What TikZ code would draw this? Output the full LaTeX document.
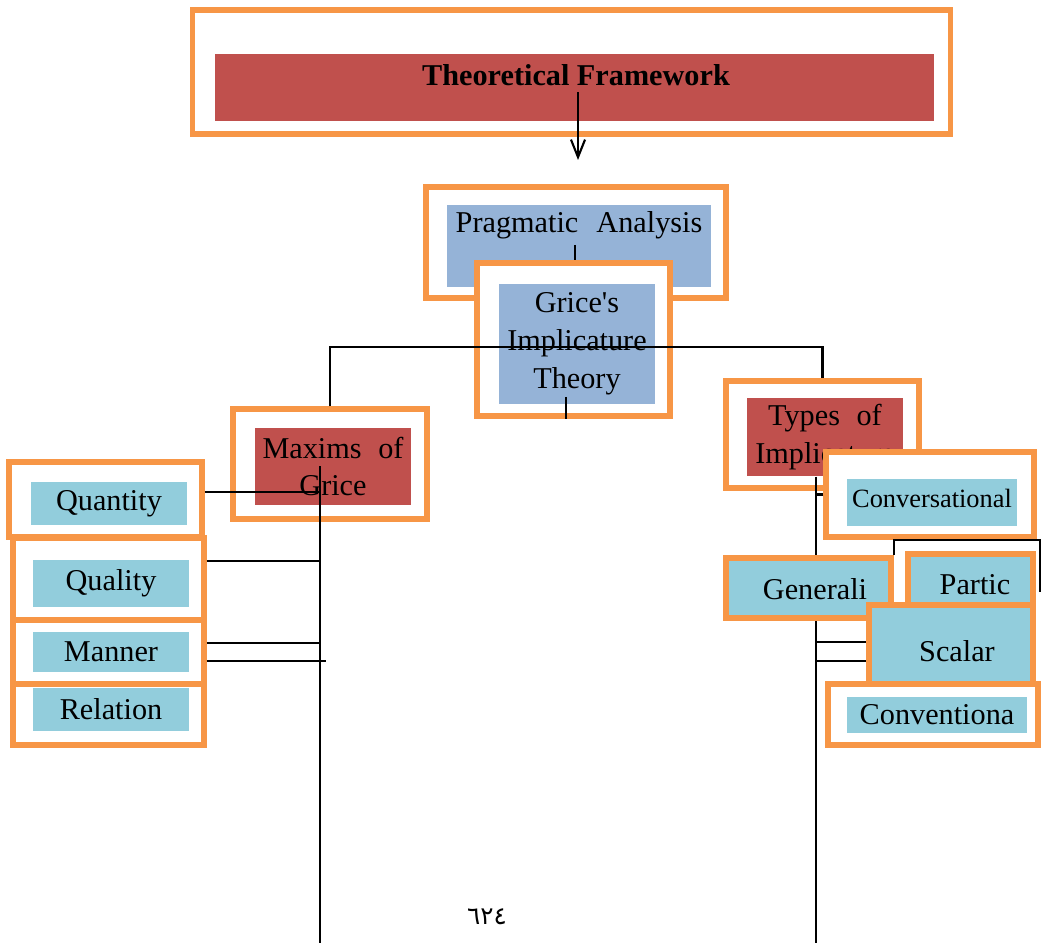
\documentclass[tikz,border=0pt]{standalone}
\usepackage{fontspec}
\setmainfont{Liberation Serif}
\newfontfamily\arabicfont[Script=Arabic]{DejaVu Sans}
\usepackage{xcolor}
\usepackage{tikz}
\usetikzlibrary{calc,arrows.meta}
\definecolor{frame}{HTML}{F79646}
\definecolor{boxred}{HTML}{C0504D}
\definecolor{boxblue}{HTML}{95B3D7}
\definecolor{boxteal}{HTML}{92CDDC}
\newcommand\diagfont{\fontsize{8.6}{10.8}\selectfont}
\newcommand\smallfont{\fontsize{7.5}{9}\selectfont}
\tikzset{
  outerbox/.style={draw=frame, fill=white, line width=1.5pt, inner sep=0pt},
  tealframe/.style={draw=frame, fill=boxteal, line width=1.5pt, inner sep=0pt, font=\diagfont},
  redbox/.style={fill=boxred, inner sep=0pt, align=center, font=\diagfont},
  bluebox/.style={fill=boxblue, inner sep=0pt, align=center, font=\diagfont},
  tealbox/.style={fill=boxteal, inner sep=0pt, align=center, font=\diagfont},
  lbl/.style={text=black, font=\diagfont, inner sep=0pt, align=center},
  link/.style={draw=black, line width=0.6pt},
  arr/.style={link, -{Straight Barb[length=5pt,width=4pt]}}
}

\begin{document}
\begin{tikzpicture}[x=0.01cm, y=-0.01cm]
  \useasboundingbox (0,0) rectangle (1042,943);

  % top box
  \node[outerbox, minimum width=7.57cm, minimum height=1.24cm] (tfo) at (571.5,72) {};
  \node[redbox, minimum width=7.19cm, minimum height=0.67cm] (tfi) at (574.5,87.5) {};
  \node[lbl, font=\diagfont\bfseries] (tft) at (576,75) {Theoretical Framework};
  \coordinate (arrtip) at (578,160);
  \draw[arr, shorten <=0.06cm] (tft.south -| arrtip) -- (arrtip);

  % pragmatic analysis
  \node[outerbox, minimum width=3.00cm, minimum height=1.11cm] (pro) at (576,242.5) {};
  \node[bluebox, minimum width=2.64cm, minimum height=0.82cm] (pri) at (579,246) {};
  \node[lbl] (prt) at (579,225) {Pragmatic\hspace{0.35em} Analysis};
  \coordinate (prtick) at (575,245);

  % grice
  \node[outerbox, minimum width=1.93cm, minimum height=1.53cm] (grio) at (573.5,339.5) {};
  \node[bluebox, minimum width=1.56cm, minimum height=1.20cm] (grii) at (577,344) {Grice\textquotesingle s\\Implicature\\Theory};
  \draw[link] (prtick) -- (prtick |- grio.north);
  \coordinate (grtick) at (566,397);
  \draw[link] (grtick) -- (grtick |- grio.south);

  % second level
  \node[outerbox, minimum width=1.94cm, minimum height=1.10cm] (mxo) at (330,464) {};
  \node[redbox, minimum width=1.56cm, minimum height=0.77cm] (mxi) at (333,466.5) {Maxims\hspace{0.3em} of\\Grice};
  \node[outerbox, minimum width=1.93cm, minimum height=1.07cm] (tyo) at (822.5,434.5) {};
  \node[redbox, minimum width=1.56cm, minimum height=0.78cm] (tyi) at (825,437) {Types\hspace{0.3em} of\\Implicature};
  \coordinate (branch) at (579,347);
  \draw[link] (mxo.north) |- (branch) -| (tyo.north);

  % maxims
  \node[outerbox, minimum width=1.93cm, minimum height=0.75cm] (qto) at (105.5,499.5) {};
  \node[tealbox, minimum width=1.56cm, minimum height=0.43cm] (qti) at (109,503.5) {Quantity};
  \node[outerbox, minimum width=1.91cm, minimum height=0.82cm] (qlo) at (108.5,579) {};
  \node[tealbox, minimum width=1.56cm, minimum height=0.47cm] (qli) at (111,583.5) {Quality};
  \node[outerbox, minimum width=1.91cm, minimum height=0.64cm] (mno) at (108.5,652) {};
  \node[tealbox, minimum width=1.56cm, minimum height=0.40cm] (mni) at (111,652) {Manner};
  \node[outerbox, minimum width=1.91cm, minimum height=0.61cm] (rlo) at (108.5,714.5) {};
  \node[tealbox, minimum width=1.56cm, minimum height=0.43cm] (rli) at (111,709.5) {Relation};

  \coordinate (mxbot) at (320,943);
  \draw[link] (mxi -| mxbot) -- (mxbot);
  \coordinate (qtjoin) at (320,492);
  \coordinate (qljoin) at (320,561);
  \coordinate (mnjoinA) at (320,643);
  \coordinate (mnjoinB) at (326,661);
  \draw[link] (qto.east |- qtjoin) -- (qtjoin);
  \draw[link] (qlo.east |- qljoin) -- (qljoin);
  \draw[link] (mno.east |- mnjoinA) -- (mnjoinA);
  \draw[link] (mno.east |- mnjoinB) -- (mnjoinB);

  % types
  \coordinate (tybot) at (816,943);
  \coordinate (pcend) at (1040,592);
  \coordinate (scA) at (0,642);
  \coordinate (scB) at (0,661);
  \node[outerbox, minimum width=2.08cm, minimum height=0.85cm] (cvo) at (930,494.5) {};
  \draw[link] (tyi.south -| tybot) -- (tybot);
  \draw[link] (cvo.west) -- (cvo.west -| tybot);
  \node[tealbox, minimum width=1.70cm, minimum height=0.47cm] (cvi) at (932,502.5) {};
  \node[lbl, font=\smallfont] (cvt) at (932,498) {Conversational};
  \node[tealframe, minimum width=1.64cm, minimum height=0.80cm] (sco) at (951,645) {};
  \draw[link] (sco.west |- scA) -- (tybot |- scA);
  \draw[link] (sco.west |- scB) -- (tybot |- scB);
  \node[tealframe, minimum width=1.65cm, minimum height=0.60cm] (gen) at (808.5,588) {};
  \draw[link] (gen.north east) |- (cvo.south -| pcend) -- (pcend);
  \node[lbl] (gent) at (815,589) {Generali};
  \node[tealframe, minimum width=1.25cm, minimum height=0.54cm] (par) at (970.5,581) {};
  \node[lbl] (part) at (975,585) {Partic};
  \node[tealframe, minimum width=1.64cm, minimum height=0.80cm] (sco2) at (951,645) {};
  \node[lbl] (scat) at (957,651) {Scalar};
  \node[outerbox, minimum width=2.10cm, minimum height=0.61cm] (cno) at (933,714.5) {};
  \node[tealbox, minimum width=1.80cm, minimum height=0.36cm] (cni) at (937,715) {Conventiona};

  \node[lbl] (page) at (487,917) {\arabicfont\fontsize{7}{8}\selectfont ٦٢٤};
\end{tikzpicture}
\end{document}
